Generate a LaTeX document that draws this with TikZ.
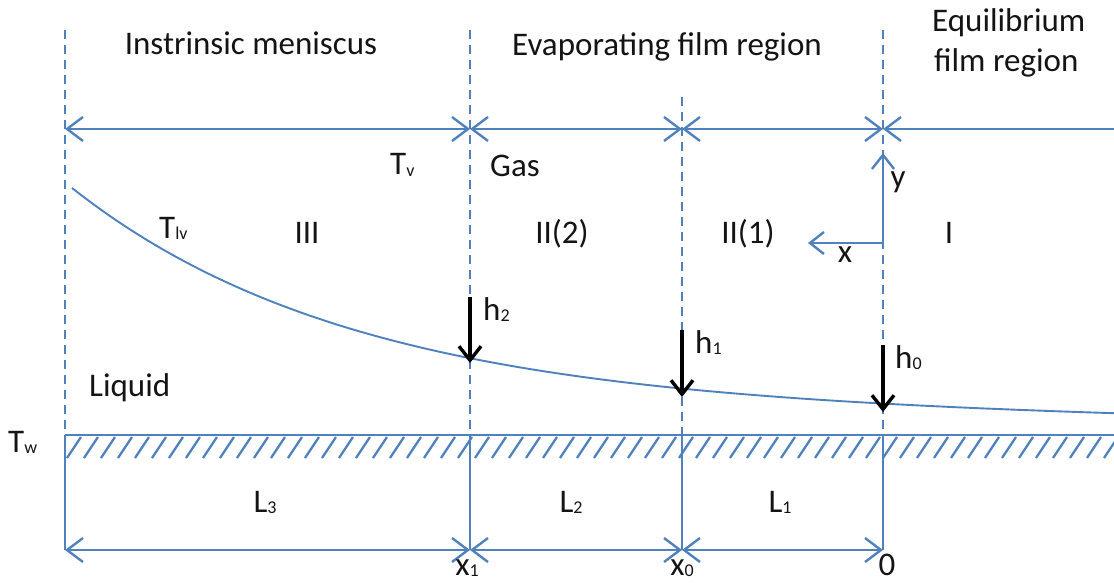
\documentclass[tikz,border=0pt]{standalone}
\usepackage{fontspec}
\setmainfont{Carlito}
\usetikzlibrary{arrows.meta}
\definecolor{lineblue}{RGB}{79,129,189}
\newcommand\sbs[1]{\raisebox{-1.5pt}{\fontsize{18}{20}\selectfont #1}}
\tikzset{
  lbl/.style={font=\fontsize{33}{40}\selectfont, inner sep=0pt, text=black!92},
  dimarrow/.style={draw=lineblue, line width=2.4pt,
    arrows={Straight Barb[length=16pt,width=24pt]-Straight Barb[length=16pt,width=24pt]}},
  leftarrow/.style={draw=lineblue, line width=2.4pt,
    arrows={Straight Barb[length=16pt,width=24pt]-}},
  axisarrow/.style={draw=lineblue, line width=2.4pt,
    arrows={-Straight Barb[length=14pt,width=22pt]}},
  harrow/.style={draw=black, line width=3.4pt,
    arrows={-Straight Barb[length=14pt,width=22pt]}},
  dashline/.style={draw=lineblue, line width=2.1pt, dash pattern=on 9pt off 6pt},
  solidv/.style={draw=lineblue, line width=2.8pt},
  wall/.style={draw=lineblue, line width=2.5pt},
  hatch/.style={draw=lineblue, line width=2.3pt},
  film/.style={draw=lineblue, line width=1.9pt}
}
\begin{document}
\begin{tikzpicture}[x=1pt,y=-1pt]
\useasboundingbox (0,0) rectangle (1114,583);
% key coordinates
\coordinate (dA) at (65,30);
\coordinate (dB) at (470,30);
\coordinate (dC) at (682,97);
\coordinate (dD) at (883,30);
\coordinate (tA) at (65,129);
\coordinate (tB) at (470,129);
\coordinate (tC) at (682,129);
\coordinate (tD) at (883,129);
\coordinate (tE) at (1114,129);
\coordinate (wA) at (65,435);
\coordinate (wB) at (470,435);
\coordinate (wC) at (682,435);
\coordinate (wD) at (883,435);
\coordinate (wE) at (1114,435);
\coordinate (bA) at (65,550);
\coordinate (bB) at (470,550);
\coordinate (bC) at (682,550);
\coordinate (bD) at (883,550);
% dashed region boundaries
\draw[dashline] (dA) -- (wA);
\draw[dashline] (dB) -- (wB);
\draw[dashline] (dC) -- (wC);
\draw[dashline] (dD) -- (wD);
% top dimension arrows
\draw[dimarrow] (tA) -- (tB);
\draw[dimarrow] (tB) -- (tC);
\draw[dimarrow] (tC) -- (tD);
\draw[leftarrow] (tD) -- (tE);
% wall
\draw[wall] (wA) -- (wE);
\begin{scope}
  \clip (65,433) rectangle (1114,462);
  \foreach \i in {0,...,62}
    \draw[hatch] (67+\i*17,458) -- ++(14,-21);
\end{scope}
% solid verticals below wall
\draw[solidv] (wA) -- (bA);
\draw[solidv] (wB) -- (bB);
\draw[solidv] (wC) -- (bC);
\draw[solidv] (wD) -- (bD);
% bottom dimension arrows
\draw[dimarrow] (bA) -- (bB);
\draw[dimarrow] (bB) -- (bC);
\draw[dimarrow] (bC) -- (bD);
% liquid film interface
\draw[film] plot[domain=72:1114, samples=140, smooth]
  (\x, {413 - 225*exp(-(\x-72)/285) + 6*((\x-72)/1042)^2});
% film thickness arrows
\coordinate (h2s) at (470,297);
\coordinate (h2e) at (470,363);
\coordinate (h1s) at (682,330);
\coordinate (h1e) at (682,397);
\coordinate (h0s) at (883,345);
\coordinate (h0e) at (883,412);
\draw[harrow] (h2s) -- (h2e);
\draw[harrow] (h1s) -- (h1e);
\draw[harrow] (h0s) -- (h0e);
% coordinate axes
\coordinate (O) at (883,243);
\coordinate (Yend) at (883,153);
\coordinate (Xend) at (808,243);
\draw[axisarrow] (O) -- (Yend);
\draw[axisarrow] (O) -- (Xend);
% labels
\node[lbl, anchor=base] (t1) at (251,55) {Instrinsic meniscus};
\node[lbl, anchor=base] (t2) at (667,56) {Evaporating film region};
\node[lbl, anchor=base west] (t3a) at (932,32) {Equilibrium};
\node[lbl, anchor=base west] (t3b) at (934,72) {film region};
\node[lbl, anchor=base west] (tv) at (390,175) {T\sbs{v}};
\node[lbl, anchor=base west] (gas) at (490,176) {Gas};
\node[lbl, anchor=base west] (tlv) at (159,238) {T\sbs{lv}};
\node[lbl, anchor=base] (r3) at (307,243) {III};
\node[lbl, anchor=base] (r22) at (562,243) {II(2)};
\node[lbl, anchor=base] (r21) at (748,243) {II(1)};
\node[lbl, anchor=base] (r1) at (949,243) {I};
\node[lbl, anchor=base] (xl) at (845,262) {x};
\node[lbl, anchor=base] (yl) at (898,187) {y};
\node[lbl, anchor=base west] (h2) at (483,320) {h\sbs{2}};
\node[lbl, anchor=base west] (h1) at (695,353) {h\sbs{1}};
\node[lbl, anchor=base west] (h0) at (895,368) {h\sbs{0}};
\node[lbl, anchor=base west] (liq) at (89,396) {Liquid};
\node[lbl, anchor=base west] (tw) at (8,452) {T\sbs{w}};
\node[lbl, anchor=base] (l3) at (265,512) {L\sbs{3}};
\node[lbl, anchor=base] (l2) at (571,512) {L\sbs{2}};
\node[lbl, anchor=base] (l1) at (780,512) {L\sbs{1}};
\node[lbl, anchor=base] (x1) at (467,575) {x\sbs{1}};
\node[lbl, anchor=base] (x0) at (682,575) {x\sbs{0}};
\node[lbl, anchor=base] (zero) at (887,575) {0};
\end{tikzpicture}
\end{document}
